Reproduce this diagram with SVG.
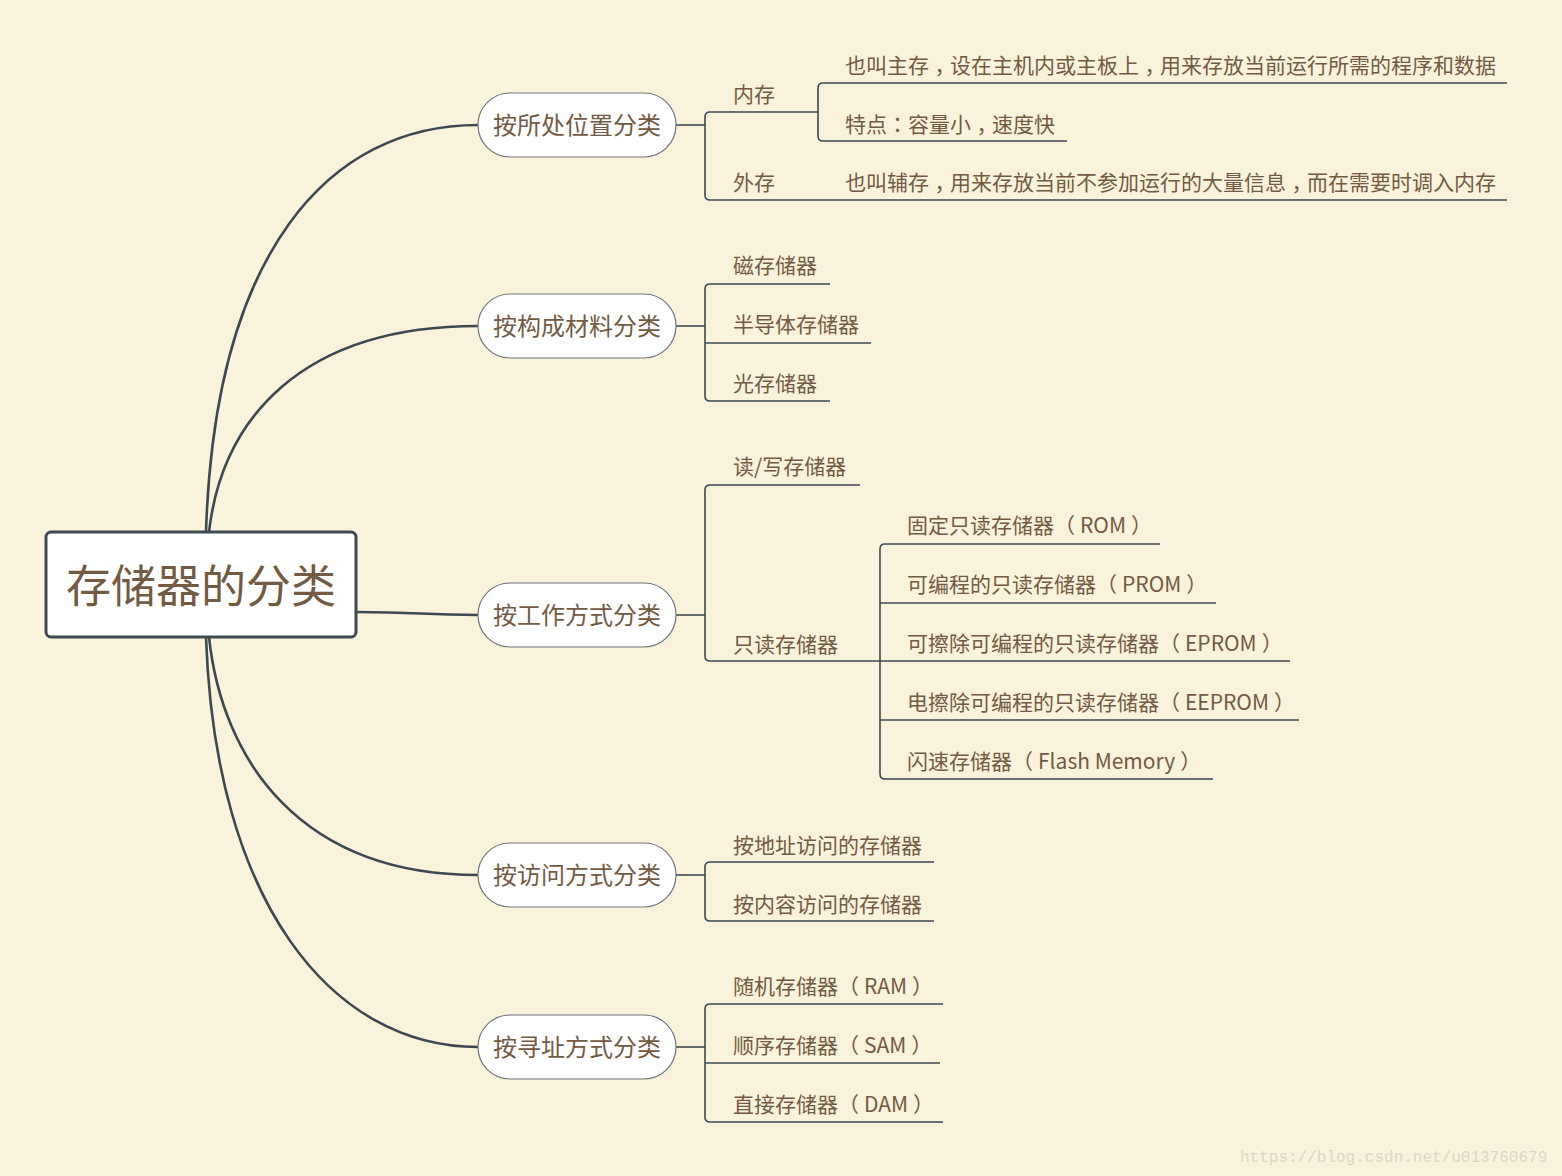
<svg xmlns="http://www.w3.org/2000/svg" width="1562" height="1176" viewBox="0 0 1562 1176">
<style>
.bg{fill:#FAF3DC}
.root{fill:#FFFFFF;stroke:#3E4850;stroke-width:3}
.pill{fill:#FFFFFF;stroke:#6F767B;stroke-width:1.2}
.main{fill:none;stroke:#3E4850;stroke-width:2.6;stroke-linecap:round}
.sub{fill:none;stroke:#3E4850;stroke-width:1.6}
.t{font-family:"Noto Sans CJK SC","Microsoft YaHei","Noto Sans",sans-serif;fill:#735A43}
.c{font-family:"Noto Sans CJK TC","Noto Sans CJK SC",sans-serif}
.k{font-family:"Noto Sans CJK KR","Noto Sans CJK SC",sans-serif}
.rt{font-size:45px;text-anchor:middle}
.bt{font-size:24px;text-anchor:middle}
.lt{font-size:21px}
.wm{font-family:"Liberation Mono",monospace;font-size:16px;fill:#DDD7C6}
</style>
<rect class="bg" x="0" y="0" width="1562" height="1176"/>

<g id="connectors">
  <path class="main" d="M206,532 C215,250 330,125 478,125"/>
  <path class="main" d="M209,532 C222,420 300,326 478,326"/>
  <path class="main" d="M356,612 C420,612 420,615 478,615"/>
  <path class="main" d="M209,637 C222,760 300,875 478,875"/>
  <path class="main" d="M206,637 C215,900 330,1047 478,1047"/>

  <path class="sub" d="M676,125 H705"/>
  <path class="sub" d="M818,112 H710 Q705,112 705,117 V195 Q705,200 710,200 H1507"/>
  <path class="sub" d="M1507,83 H823 Q818,83 818,88 V136 Q818,141 823,141 H1067"/>

  <path class="sub" d="M676,326 H705"/>
  <path class="sub" d="M830,284 H710 Q705,284 705,289 V396 Q705,401 710,401 H830"/>
  <path class="sub" d="M705,343 H871"/>

  <path class="sub" d="M676,615 H705"/>
  <path class="sub" d="M860,485 H710 Q705,485 705,490 V656 Q705,661 710,661 H1290"/>
  <path class="sub" d="M1160,544 H885 Q880,544 880,549 V774 Q880,779 885,779 H1213"/>
  <path class="sub" d="M880,603 H1216"/>
  <path class="sub" d="M880,720 H1299"/>

  <path class="sub" d="M676,875 H705"/>
  <path class="sub" d="M934,862 H710 Q705,862 705,867 V916 Q705,921 710,921 H934"/>

  <path class="sub" d="M676,1047 H705"/>
  <path class="sub" d="M943,1004 H710 Q705,1004 705,1009 V1117 Q705,1122 710,1122 H943"/>
  <path class="sub" d="M705,1063 H940"/>
</g>

<g id="root">
  <rect class="root" x="46" y="532" width="310" height="105" rx="5"/>
  <text class="t rt" x="201" y="603">存储器的分类</text>
</g>

<g id="n1">
  <rect class="pill" x="478" y="93" width="198" height="64" rx="32"/>
  <text class="t bt" x="577" y="134">按所处位置分类</text>
</g>
<g id="n2">
  <rect class="pill" x="478" y="294" width="198" height="64" rx="32"/>
  <text class="t bt" x="577" y="335">按构成材料分类</text>
</g>
<g id="n3">
  <rect class="pill" x="478" y="583" width="198" height="64" rx="32"/>
  <text class="t bt" x="577" y="624">按工作方式分类</text>
</g>
<g id="n4">
  <rect class="pill" x="478" y="843" width="198" height="64" rx="32"/>
  <text class="t bt" x="577" y="884">按访问方式分类</text>
</g>
<g id="n5">
  <rect class="pill" x="478" y="1015" width="198" height="64" rx="32"/>
  <text class="t bt" x="577" y="1056">按寻址方式分类</text>
</g>

<g id="n1-children">
  <text class="t lt" x="733" y="102">内存</text>
  <text class="t lt" x="845" y="73">也叫主存<tspan class="c" dy="7">，</tspan><tspan dy="-7">设在主机内或主板上</tspan><tspan class="c" dy="7">，</tspan><tspan dy="-7">用来存放当前运行所需的程序和数据</tspan></text>
  <text class="t lt" x="845" y="132">特点<tspan class="k">：</tspan>容量小<tspan class="c" dy="7">，</tspan><tspan dy="-7">速度快</tspan></text>
  <text class="t lt" x="733" y="190">外存</text>
  <text class="t lt" x="845" y="190">也叫辅存<tspan class="c" dy="7">，</tspan><tspan dy="-7">用来存放当前不参加运行的大量信息</tspan><tspan class="c" dy="7">，</tspan><tspan dy="-7">而在需要时调入内存</tspan></text>
</g>
<g id="n2-children">
  <text class="t lt" x="733" y="273">磁存储器</text>
  <text class="t lt" x="733" y="332">半导体存储器</text>
  <text class="t lt" x="733" y="391">光存储器</text>
</g>
<g id="n3-children">
  <text class="t lt" x="733" y="474">读/写存储器</text>
  <text class="t lt" x="733" y="652">只读存储器</text>
  <text class="t lt" x="907" y="533">固定只读存储器（<tspan dx="5">ROM</tspan><tspan dx="5">）</tspan></text>
  <text class="t lt" x="907" y="592">可编程的只读存储器（<tspan dx="5">PROM</tspan><tspan dx="5">）</tspan></text>
  <text class="t lt" x="907" y="651">可擦除可编程的只读存储器（<tspan dx="5">EPROM</tspan><tspan dx="5">）</tspan></text>
  <text class="t lt" x="907" y="710">电擦除可编程的只读存储器（<tspan dx="5">EEPROM</tspan><tspan dx="5">）</tspan></text>
  <text class="t lt" x="907" y="769">闪速存储器（<tspan dx="5">Flash Memory</tspan><tspan dx="5">）</tspan></text>
</g>
<g id="n4-children">
  <text class="t lt" x="733" y="853">按地址访问的存储器</text>
  <text class="t lt" x="733" y="912">按内容访问的存储器</text>
</g>
<g id="n5-children">
  <text class="t lt" x="733" y="994">随机存储器（<tspan dx="5">RAM</tspan><tspan dx="5">）</tspan></text>
  <text class="t lt" x="733" y="1053">顺序存储器（<tspan dx="5">SAM</tspan><tspan dx="5">）</tspan></text>
  <text class="t lt" x="733" y="1112">直接存储器（<tspan dx="5">DAM</tspan><tspan dx="5">）</tspan></text>
</g>

<text class="wm" x="1240" y="1162">https://blog.csdn.net/u013760679</text>
</svg>
